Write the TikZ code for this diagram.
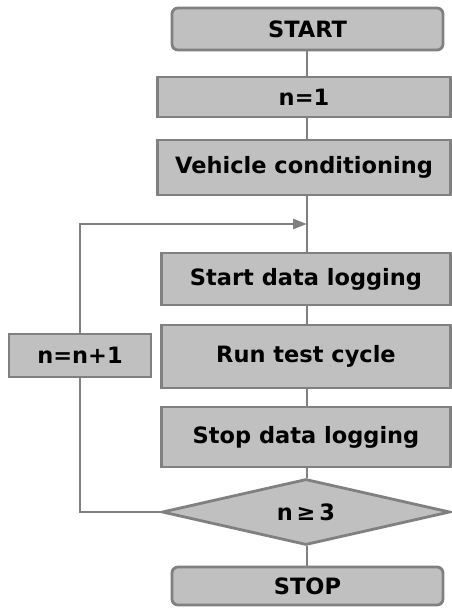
\documentclass[tikz,border=0pt]{standalone}
\usepackage{fontspec}
\setmainfont{DejaVu Sans}
\usetikzlibrary{shapes.geometric,arrows.meta}
\definecolor{ln}{HTML}{808080}
\definecolor{fl}{HTML}{C0C0C0}
\tikzset{
  base/.style={draw=ln, fill=fl, line width=2.8pt, font=\fontsize{22.5}{26}\selectfont\bfseries, inner sep=0pt},
  rbox/.style={base, rounded corners=6pt},
  pbox/.style={base},
  dia/.style={base, diamond, aspect=4.4},
  conn/.style={draw=ln, line width=2.8pt},
}
\begin{document}
\begin{tikzpicture}[x=1pt,y=1pt]
\useasboundingbox (0,0) rectangle (451,-608);
\node[rbox, minimum width=271pt, minimum height=42pt] (start) at (307.5,-29) {START};
\node[pbox, minimum width=293pt, minimum height=40pt] (n1) at (304,-97) {n=1};
\node[pbox, minimum width=293pt, minimum height=55pt] (veh) at (304,-167.5) {Vehicle conditioning};
\node[pbox, minimum width=289pt, minimum height=52pt] (sdl) at (306,-279) {Start data logging};
\node[pbox, minimum width=289pt, minimum height=63pt] (run) at (306,-356.5) {Run test cycle};
\node[pbox, minimum width=289pt, minimum height=60pt] (stp) at (306,-437) {Stop data logging};
\node[dia, minimum width=288pt, minimum height=66pt] (dec) at (306,-512) {n\,≥\,3};
\node[rbox, minimum width=271pt, minimum height=38pt] (stop) at (307.5,-586) {STOP};
\node[pbox, minimum width=142pt, minimum height=43pt] (inc) at (80,-355.5) {n=n+1};
\coordinate (j) at (307,-224);
\coordinate (bl) at (80,-512);
\coordinate (tl) at (80,-224);
\draw[conn] (start.south -| 307,0) -- (n1.north -| 307,0);
\draw[conn] (n1.south -| 307,0) -- (veh.north -| 307,0);
\draw[conn] (veh.south -| 307,0) -- (j) -- (sdl.north -| 307,0);
\draw[conn] (sdl.south -| 307,0) -- (run.north -| 307,0);
\draw[conn] (run.south -| 307,0) -- (stp.north -| 307,0);
\draw[conn] (stp.south -| 307,0) -- (dec.north -| 307,0);
\draw[conn] (dec.south -| 307,0) -- (stop.north -| 307,0);
\draw[conn] (dec.west) -- (bl) -- (inc.south);
\draw[conn, -{Triangle[length=14pt,width=10pt]}] (inc.north) -- (tl) -- (j);
\end{tikzpicture}
\end{document}
